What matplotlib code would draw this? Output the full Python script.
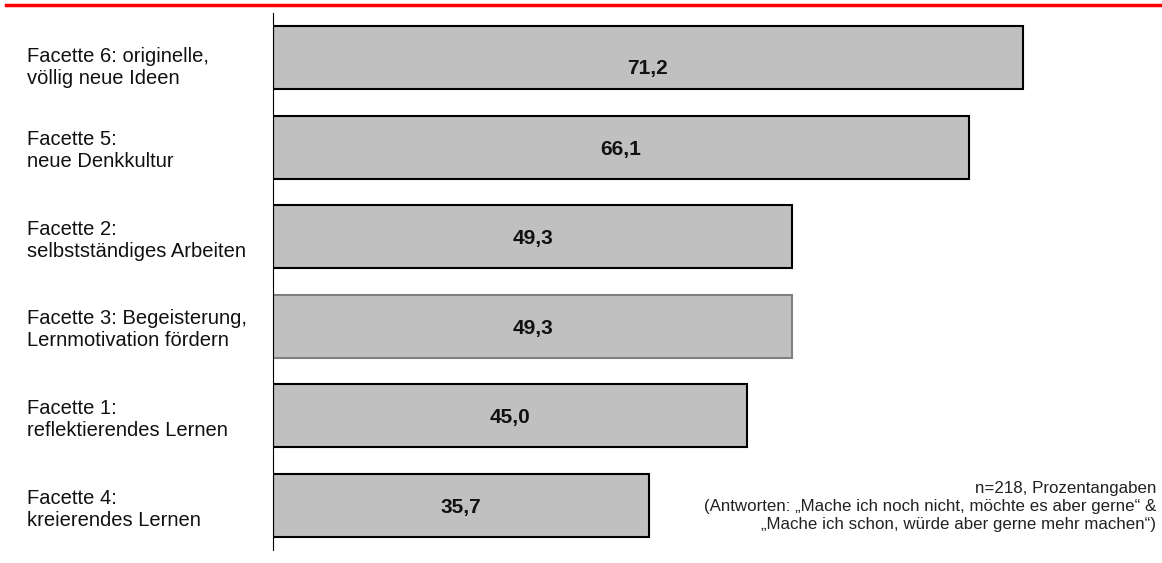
import matplotlib.pyplot as plt
from matplotlib.lines import Line2D

plt.rcParams['font.family'] = ['Liberation Sans', 'DejaVu Sans']

# Facetten, von oben nach unten
labels = [
    'Facette 6: originelle,\nvöllig neue Ideen',
    'Facette 5:\nneue Denkkultur',
    'Facette 2:\nselbstständiges Arbeiten',
    'Facette 3: Begeisterung,\nLernmotivation fördern',
    'Facette 1:\nreflektierendes Lernen',
    'Facette 4:\nkreierendes Lernen',
]
values = [71.2, 66.1, 49.3, 49.3, 45.0, 35.7]
edge_colors = ['black', 'black', 'black', '#808080', 'black', 'black']

note = ('n=218, Prozentangaben\n'
        '(Antworten: „Mache ich noch nicht, möchte es aber gerne“ &\n'
        '„Mache ich schon, würde aber gerne mehr machen“)')

fig = plt.figure(figsize=(11.62, 5.63), dpi=100)
ax = fig.add_axes([273 / 1162, 13 / 563, 889 / 1162, 537 / 563])

y = list(range(len(values)))
ax.barh(y, values, height=0.7, color='#c0c0c0', edgecolor=edge_colors, linewidth=1.5)

for i, v in enumerate(values):
    dy = 0.12 if i == 0 else 0.02
    ax.text(v / 2, i + dy, f'{v:.1f}'.replace('.', ','), ha='center', va='center',
            fontsize=15, fontweight='bold', color='#111111')

ax.set_xlim(0, 889 / 750 * 71.2)
ax.set_ylim(len(values) - 0.5, -0.5)
for s in ['top', 'right', 'bottom']:
    ax.spines[s].set_visible(False)
ax.spines['left'].set_linewidth(0.8)
ax.set_xticks([])
ax.set_yticks([])

for i, lab in enumerate(labels):
    fig.text(27 / 1162, 1 - (58.5 + 89.8 * i + (9 if i == 0 else 2)) / 563, lab,
             ha='left', va='center', fontsize=14.5, linespacing=1.2, color='#111111')

fig.text(1156 / 1162, 1 - 507 / 563, note, ha='right', va='center',
         fontsize=12.2, linespacing=1.25, color='#222222')

fig.add_artist(Line2D([6 / 1162, 1], [1 - 5 / 563] * 2, color='#ff0000', linewidth=2.5,
                      transform=fig.transFigure))

fig.savefig('out.png', dpi=100)
